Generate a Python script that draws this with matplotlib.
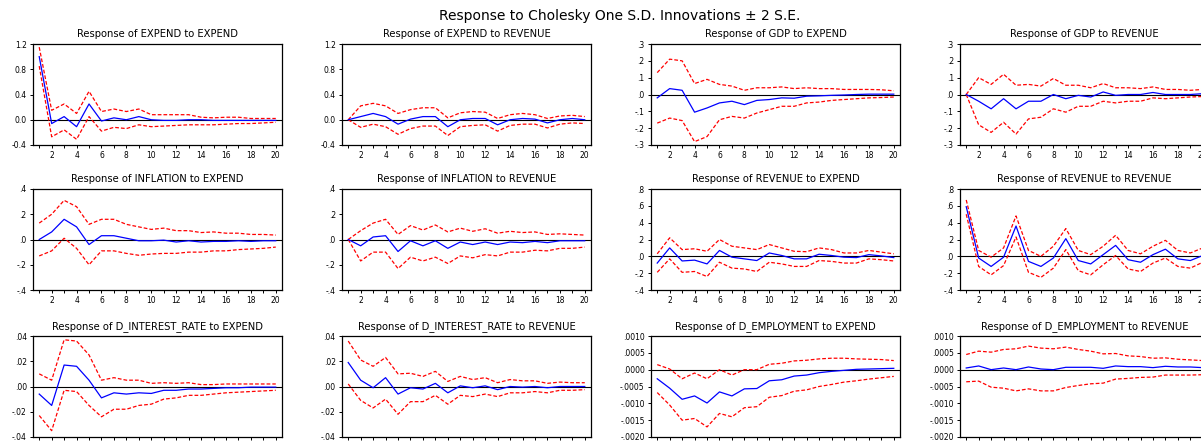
import matplotlib
matplotlib.use('Agg')
import matplotlib.pyplot as plt
import numpy as np

plt.rcParams['font.family'] = ['DejaVu Sans']

periods = list(range(1, 21))
main_title = 'Response to Cholesky One S.D. Innovations \u00b1 2 S.E.'

# Response of EXPEND to EXPEND
exp_exp = [1.0, -0.06, 0.05, -0.11, 0.25, -0.02, 0.03, 0.0, 0.05, 0.0,
           -0.01, -0.01, 0.0, 0.0, -0.01, -0.01, -0.01, -0.01, -0.01, -0.01]
exp_exp_hi = [1.15, 0.15, 0.25, 0.1, 0.45, 0.13, 0.17, 0.13, 0.17, 0.08,
              0.08, 0.08, 0.08, 0.04, 0.03, 0.04, 0.04, 0.02, 0.02, 0.02]
exp_exp_lo = [0.85, -0.27, -0.16, -0.31, 0.05, -0.18, -0.12, -0.14, -0.08, -0.11,
              -0.1, -0.09, -0.08, -0.08, -0.08, -0.07, -0.06, -0.06, -0.05, -0.04]

# Response of EXPEND to REVENUE
exp_rev = [0.0, 0.05, 0.1, 0.05, -0.07, 0.01, 0.05, 0.05, -0.11, 0.0,
           0.02, 0.02, -0.08, 0.0, 0.02, 0.01, -0.05, 0.0, 0.02, 0.0]
exp_rev_hi = [0.0, 0.22, 0.26, 0.22, 0.1, 0.16, 0.19, 0.19, 0.03, 0.11,
              0.13, 0.12, 0.02, 0.08, 0.1, 0.08, 0.02, 0.06, 0.07, 0.05]
exp_rev_lo = [0.0, -0.12, -0.07, -0.11, -0.23, -0.14, -0.1, -0.1, -0.25, -0.11,
              -0.09, -0.08, -0.18, -0.09, -0.07, -0.07, -0.13, -0.07, -0.05, -0.06]

# Response of GDP to EXPEND
gdp_exp = [-0.02, 0.035, 0.025, -0.105, -0.08, -0.05, -0.04, -0.06, -0.035, -0.03,
           -0.02, -0.022, -0.01, -0.008, -0.005, -0.003, 0.0, 0.002, 0.002, 0.002]
gdp_exp_hi = [0.13, 0.21, 0.2, 0.065, 0.09, 0.06, 0.05, 0.025, 0.04, 0.04,
              0.045, 0.035, 0.04, 0.035, 0.035, 0.03, 0.03, 0.03, 0.028, 0.022]
gdp_exp_lo = [-0.17, -0.14, -0.155, -0.28, -0.25, -0.15, -0.13, -0.14, -0.11, -0.09,
              -0.07, -0.07, -0.05, -0.045, -0.035, -0.03, -0.025, -0.02, -0.018, -0.015]

# Response of GDP to REVENUE
gdp_rev = [0.0, -0.04, -0.085, -0.025, -0.085, -0.04, -0.04, 0.0, -0.025, -0.005,
           -0.015, 0.015, -0.005, 0.0, 0.0, 0.012, 0.0, 0.0, 0.0, 0.005]
gdp_rev_hi = [0.0, 0.1, 0.06, 0.12, 0.055, 0.06, 0.05, 0.095, 0.055, 0.055,
              0.04, 0.065, 0.04, 0.04, 0.035, 0.045, 0.03, 0.03, 0.025, 0.03]
gdp_rev_lo = [0.0, -0.18, -0.225, -0.165, -0.235, -0.145, -0.135, -0.085, -0.105, -0.07,
              -0.07, -0.04, -0.05, -0.04, -0.04, -0.02, -0.025, -0.02, -0.015, -0.012]

# Response of INFLATION to EXPEND
inf_exp = [0.0, 0.06, 0.16, 0.1, -0.04, 0.03, 0.03, 0.01, -0.01, -0.01,
           -0.005, -0.02, -0.01, -0.02, -0.015, -0.015, -0.01, -0.015, -0.01, -0.01]
inf_exp_hi = [0.13, 0.2, 0.31, 0.26, 0.12, 0.16, 0.16, 0.12, 0.1, 0.08,
              0.09, 0.07, 0.07, 0.055, 0.06, 0.05, 0.05, 0.04, 0.04, 0.035]
inf_exp_lo = [-0.13, -0.09, 0.01, -0.07, -0.2, -0.09, -0.09, -0.11, -0.125, -0.115,
              -0.11, -0.11, -0.1, -0.1, -0.09, -0.09, -0.08, -0.075, -0.07, -0.06]

# Response of INFLATION to REVENUE
inf_rev = [0.0, -0.05, 0.02, 0.03, -0.095, -0.01, -0.05, -0.01, -0.07, -0.02,
           -0.04, -0.02, -0.04, -0.02, -0.025, -0.015, -0.025, -0.01, -0.01, -0.01]
inf_rev_hi = [0.0, 0.07, 0.13, 0.16, 0.04, 0.11, 0.075, 0.115, 0.06, 0.09,
              0.065, 0.085, 0.05, 0.065, 0.055, 0.06, 0.04, 0.045, 0.04, 0.035]
inf_rev_lo = [0.0, -0.17, -0.1, -0.1, -0.23, -0.14, -0.17, -0.14, -0.19, -0.13,
              -0.145, -0.12, -0.13, -0.1, -0.1, -0.085, -0.09, -0.07, -0.07, -0.06]

# Response of REVENUE to EXPEND
rev_exp = [-0.08, 0.1, -0.055, -0.045, -0.09, 0.07, -0.01, -0.03, -0.05, 0.04,
           0.01, -0.03, -0.03, 0.025, 0.01, -0.01, -0.015, 0.02, 0.005, -0.015]
rev_exp_hi = [0.03, 0.22, 0.08, 0.09, 0.06, 0.2, 0.12, 0.1, 0.08, 0.14,
              0.1, 0.06, 0.055, 0.1, 0.08, 0.04, 0.04, 0.07, 0.05, 0.03]
rev_exp_lo = [-0.19, -0.03, -0.19, -0.18, -0.24, -0.07, -0.14, -0.15, -0.18, -0.07,
              -0.09, -0.12, -0.12, -0.05, -0.06, -0.08, -0.08, -0.03, -0.04, -0.055]

# Response of REVENUE to REVENUE
rev_rev = [0.59, -0.02, -0.12, -0.01, 0.36, -0.06, -0.12, -0.02, 0.21, -0.05,
           -0.09, 0.02, 0.13, -0.04, -0.07, 0.02, 0.085, -0.03, -0.05, 0.01]
rev_rev_hi = [0.67, 0.07, -0.01, 0.1, 0.48, 0.07, 0.0, 0.12, 0.33, 0.07,
              0.02, 0.12, 0.25, 0.07, 0.03, 0.12, 0.19, 0.07, 0.04, 0.1]
rev_rev_lo = [0.5, -0.12, -0.22, -0.11, 0.23, -0.19, -0.25, -0.14, 0.08, -0.17,
              -0.22, -0.1, 0.01, -0.15, -0.18, -0.08, -0.02, -0.12, -0.14, -0.07]

# Response of D_INTEREST_RATE to EXPEND
int_exp = [-0.006, -0.015, 0.017, 0.016, 0.005, -0.009, -0.005, -0.006, -0.005, -0.0055,
           -0.003, -0.003, -0.002, -0.002, -0.0015, -0.001, -0.001, -0.0005, -0.0005, -0.0005]
int_exp_hi = [0.01, 0.005, 0.037, 0.036, 0.025, 0.005, 0.007, 0.005, 0.005, 0.0025,
              0.003, 0.0025, 0.003, 0.0015, 0.0015, 0.002, 0.002, 0.002, 0.002, 0.002]
int_exp_lo = [-0.023, -0.035, -0.003, -0.004, -0.015, -0.024, -0.018, -0.018, -0.015, -0.014,
              -0.01, -0.009, -0.007, -0.007, -0.006, -0.005, -0.0045, -0.004, -0.0035, -0.003]

# Response of D_INTEREST_RATE to REVENUE
int_rev = [0.019, 0.005, -0.001, 0.007, -0.006, -0.001, -0.002, 0.0025, -0.005, 0.0005,
           -0.001, 0.0005, -0.0025, 0.0, -0.0005, 0.0, -0.001, 0.0, 0.0, 0.0]
int_rev_hi = [0.036, 0.021, 0.016, 0.023, 0.01, 0.0105, 0.008, 0.012, 0.004, 0.008,
              0.0055, 0.007, 0.003, 0.0055, 0.0045, 0.0045, 0.0025, 0.0035, 0.003, 0.003]
int_rev_lo = [0.002, -0.011, -0.017, -0.01, -0.022, -0.012, -0.012, -0.007, -0.014, -0.007,
              -0.008, -0.006, -0.008, -0.005, -0.005, -0.004, -0.005, -0.003, -0.003, -0.0025]

# Response of D_EMPLOYMENT to EXPEND
emp_exp = [-0.00027, -0.00055, -0.00088, -0.00078, -0.00099, -0.00066, -0.00078, -0.00057, -0.00056, -0.00033,
           -0.0003, -0.00019, -0.00016, -0.00009, -0.00005, -0.00002, 0.00001, 0.00002, 0.00003, 0.00004]
emp_exp_hi = [0.00015, 0.00002, -0.00027, -0.0001, -0.00027, 0.0, -0.00016, 0.0, 0.0, 0.00016,
              0.00019, 0.00026, 0.00028, 0.00032, 0.00034, 0.00034, 0.00032, 0.00031, 0.0003, 0.00027]
emp_exp_lo = [-0.00068, -0.00105, -0.0015, -0.00145, -0.0017, -0.0013, -0.0014, -0.00113, -0.0011, -0.00082,
              -0.00077, -0.00064, -0.0006, -0.0005, -0.00044, -0.00037, -0.00033, -0.00028, -0.00024, -0.0002]

# Response of D_EMPLOYMENT to REVENUE
emp_rev = [0.00005, 0.00011, 0.0, 0.00005, 0.0, 0.00008, 0.00002, 0.0, 0.00007, 0.00007,
           0.00007, 0.00004, 0.00011, 0.00009, 0.00009, 0.00006, 0.0001, 0.00008, 0.00008, 0.00006]
emp_rev_hi = [0.00045, 0.00055, 0.00052, 0.0006, 0.00062, 0.0007, 0.00064, 0.00062, 0.00067, 0.0006,
              0.00055, 0.00047, 0.00048, 0.00041, 0.00039, 0.00034, 0.00035, 0.00031, 0.00029, 0.00027]
emp_rev_lo = [-0.00036, -0.00034, -0.00052, -0.00055, -0.00063, -0.00057, -0.00063, -0.00063, -0.00053, -0.00047,
              -0.00042, -0.0004, -0.00028, -0.00026, -0.00023, -0.00022, -0.00016, -0.00016, -0.00016, -0.00015]

# y axis ticks / labels
ticks_exp = [-0.4, 0.0, 0.4, 0.8, 1.2]
labels_exp = ['-0.4', '0.0', '0.4', '0.8', '1.2']
ticks_gdp = [-0.3, -0.2, -0.1, 0.0, 0.1, 0.2, 0.3]
labels_gdp = ['-.3', '-.2', '-.1', '.0', '.1', '.2', '.3']
ticks_inf = [-0.4, -0.2, 0.0, 0.2, 0.4]
labels_inf = ['-.4', '-.2', '.0', '.2', '.4']
ticks_rev = [-0.4, -0.2, 0.0, 0.2, 0.4, 0.6, 0.8]
labels_rev = ['-.4', '-.2', '.0', '.2', '.4', '.6', '.8']
ticks_int = [-0.04, -0.02, 0.0, 0.02, 0.04]
labels_int = ['-.04', '-.02', '.00', '.02', '.04']
ticks_emp = [-0.002, -0.0015, -0.001, -0.0005, 0.0, 0.0005, 0.001]
labels_emp = ['-.0020', '-.0015', '-.0010', '-.0005', '.0000', '.0005', '.0010']

panels = [
    ('Response of EXPEND to EXPEND', exp_exp, exp_exp_hi, exp_exp_lo, ticks_exp, labels_exp),
    ('Response of EXPEND to REVENUE', exp_rev, exp_rev_hi, exp_rev_lo, ticks_exp, labels_exp),
    ('Response of GDP to EXPEND', gdp_exp, gdp_exp_hi, gdp_exp_lo, ticks_gdp, labels_gdp),
    ('Response of GDP to REVENUE', gdp_rev, gdp_rev_hi, gdp_rev_lo, ticks_gdp, labels_gdp),
    ('Response of INFLATION to EXPEND', inf_exp, inf_exp_hi, inf_exp_lo, ticks_inf, labels_inf),
    ('Response of INFLATION to REVENUE', inf_rev, inf_rev_hi, inf_rev_lo, ticks_inf, labels_inf),
    ('Response of REVENUE to EXPEND', rev_exp, rev_exp_hi, rev_exp_lo, ticks_rev, labels_rev),
    ('Response of REVENUE to REVENUE', rev_rev, rev_rev_hi, rev_rev_lo, ticks_rev, labels_rev),
    ('Response of D_INTEREST_RATE to EXPEND', int_exp, int_exp_hi, int_exp_lo, ticks_int, labels_int),
    ('Response of D_INTEREST_RATE to REVENUE', int_rev, int_rev_hi, int_rev_lo, ticks_int, labels_int),
    ('Response of D_EMPLOYMENT to EXPEND', emp_exp, emp_exp_hi, emp_exp_lo, ticks_emp, labels_emp),
    ('Response of D_EMPLOYMENT to REVENUE', emp_rev, emp_rev_hi, emp_rev_lo, ticks_emp, labels_emp),
]

W, H = 1201, 443
fig = plt.figure(figsize=(W / 100, H / 100), dpi=100)
# the original figure is wider than the crop, so its title sits right of centre
fig.text(620 / W, 1 - 16 / H, main_title, ha='center', va='center', fontsize=10)

col_left = [33, 342, 651, 960]
row_top = [44, 189, 336]
ax_w, ax_h = 249, 101

for i, (title, resp, hi, lo, yt, yl) in enumerate(panels):
    r, c = divmod(i, 4)
    ax = fig.add_axes([col_left[c] / W, 1 - (row_top[r] + ax_h) / H, ax_w / W, ax_h / H])
    ax.axhline(0, color='black', lw=0.8, zorder=1)
    ax.plot(periods, hi, color='red', lw=0.9, ls=(0, (3, 1.6)), zorder=2)
    ax.plot(periods, lo, color='red', lw=0.9, ls=(0, (3, 1.6)), zorder=2)
    ax.plot(periods, resp, color='blue', lw=0.9, zorder=3)
    ax.set_xlim(0.5, 20.5)
    ax.set_ylim(yt[0], yt[-1])
    ax.set_yticks(yt)
    ax.set_yticklabels(yl)
    ax.set_xticks(periods)
    ax.set_xticklabels([str(p) if p % 2 == 0 else '' for p in periods])
    ax.tick_params(direction='out', length=2.5, width=0.7, labelsize=5.5, pad=2)
    for s in ax.spines.values():
        s.set_linewidth(0.9)
    ax.set_title(title, fontsize=7.2, pad=5)

plt.savefig('out.png', dpi=100)
